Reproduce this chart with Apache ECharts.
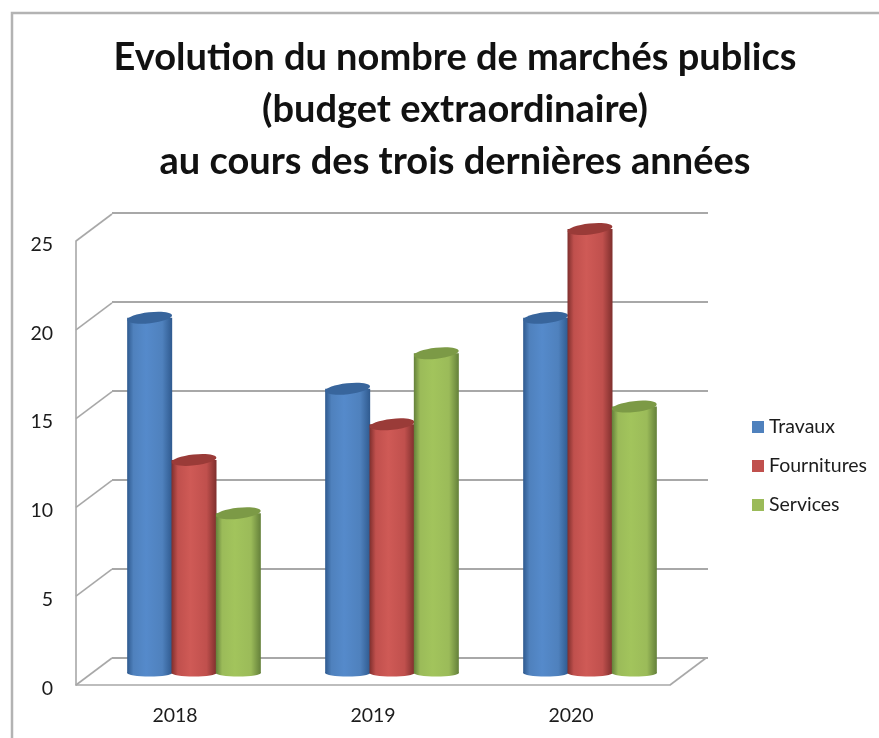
<!DOCTYPE html>
<html>
<head>
<meta charset="utf-8">
<style>html,body{margin:0;padding:0;background:#fff}#c{width:879px;height:738px}</style>
<script src="https://cdn.jsdelivr.net/npm/echarts@6/dist/echarts.min.js"></script>
</head>
<body>
<div id="c"></div>
<script>
const titleLines = ["Evolution du nombre de marchés publics", "(budget extraordinaire)", "au cours des trois dernières années"];
const categories = ["2018", "2019", "2020"];
const travaux = [20, 16, 20];
const fournitures = [12, 14, 25];
const services = [9, 18, 15];
const yTicks = [0, 5, 10, 15, 20, 25];

const FONT = "Lato, sans-serif";
const GRID_COLOR = "#a8a8a8";
const DEPTH_X = 36, DEPTH_Y = 27;      // wall depth
const BAR_DX = 19, BAR_DY = 12;        // bars stand mid-floor
const BAR_BAND = 0.2273;               // bar width as a share of a category band
const palettes = [
  {main: "#4f81bd", light: "#558acb", dark: "#2f5a8f", top: "#38659c"},
  {main: "#c0504d", light: "#cf5a56", dark: "#7f2f2d", top: "#9a3b38"},
  {main: "#9bbb59", light: "#a2c45c", dark: "#64803a", top: "#7c9a46"}
];

function cylinder(params, api) {
  const pal = palettes[params.seriesIndex - 1];
  const band = api.size([1, 0])[0];
  const w = band * BAR_BAND;
  const i = api.value(0);
  const top = api.coord([i, api.value(1)]);
  const base = api.coord([i, 0]);
  const cx = top[0] + BAR_DX + (params.seriesIndex - 2) * w * 0.985;
  const yt = top[1] - BAR_DY, yb = base[1] - BAR_DY;
  const tilt = 0.11;
  const grad = new echarts.graphic.LinearGradient(0, 0, 1, 0, [
    {offset: 0, color: pal.dark},
    {offset: 0.14, color: pal.main},
    {offset: 0.42, color: pal.light},
    {offset: 0.78, color: pal.main},
    {offset: 1, color: pal.dark}
  ]);
  return {
    type: "group",
    children: [
      {type: "ellipse", shape: {cx: cx, cy: yb, rx: w / 2, ry: 3.5}, style: {fill: grad}},
      {type: "rect", shape: {x: cx - w / 2, y: yt, width: w, height: yb - yt}, style: {fill: grad}},
      {type: "ellipse", originX: cx, originY: yt, rotation: tilt,
       shape: {cx: cx, cy: yt, rx: w / 2, ry: 5.5}, style: {fill: pal.top}}
    ]
  };
}

function walls(params, api) {
  const band = api.size([1, 0])[0];
  const val = api.value(0);
  const p0 = api.coord([0, val]);
  const x0 = p0[0] - band / 2, y0 = p0[1];
  const lineStyle = {stroke: GRID_COLOR, lineWidth: 1.6, fill: null};
  const children = [
    {type: "line", shape: {x1: x0, y1: y0, x2: x0 + DEPTH_X, y2: y0 - DEPTH_Y}, style: lineStyle}
  ];
  if (val === 0) {
    const xe = x0 + band * categories.length;
    children.push({type: "line", shape: {x1: xe, y1: y0, x2: xe + DEPTH_X, y2: y0 - DEPTH_Y}, style: lineStyle});
  }
  return {type: "group", children: children};
}

function barSeries(name, values, idx) {
  return {
    name: name,
    type: "custom",
    xAxisIndex: 0,
    yAxisIndex: 0,
    z: 5,
    clip: false,
    itemStyle: {color: palettes[idx].main},
    encode: {x: 0, y: 1},
    renderItem: cylinder,
    data: values.map((v, i) => [i, v])
  };
}

const chart = echarts.init(document.getElementById("c"), null, {renderer: "canvas"});
chart.setOption({
  backgroundColor: "#ffffff",
  animation: false,
  title: {
    text: titleLines.join("\n"),
    left: 450, top: 27, textAlign: "center",
    textStyle: {fontFamily: FONT, fontWeight: "bold", fontSize: 38, lineHeight: 52, color: "#111"}
  },
  legend: {
    orient: "vertical",
    left: 747, top: 411,
    itemWidth: 12, itemHeight: 12, itemGap: 17, icon: "rect",
    data: ["Travaux", "Fournitures", "Services"],
    textStyle: {fontFamily: FONT, fontSize: 19.5, color: "#1c1c1c", lineHeight: 22}
  },
  grid: [
    {left: 76, top: 241, width: 594, height: 444},
    {left: 112, top: 213, width: 596, height: 445}
  ],
  xAxis: [
    {type: "category", gridIndex: 0, data: categories,
     axisLine: {lineStyle: {color: GRID_COLOR, width: 1.6}},
     axisTick: {show: false},
     axisLabel: {fontFamily: FONT, fontSize: 19.5, color: "#1c1c1c", margin: 21}},
    {type: "category", gridIndex: 1, data: categories,
     axisLine: {show: false}, axisTick: {show: false}, axisLabel: {show: false}}
  ],
  yAxis: [
    {type: "value", gridIndex: 0, min: 0, max: 25, interval: 5,
     axisLine: {show: true, lineStyle: {color: GRID_COLOR, width: 1.6}},
     axisTick: {show: false}, splitLine: {show: false},
     axisLabel: {
       margin: 23,
       formatter: "{v|{value}}",
       rich: {v: {fontFamily: FONT, fontSize: 19.5, color: "#1c1c1c", padding: [7, 0, 0, 0]}}
     }},
    {type: "value", gridIndex: 1, min: 0, max: 25, interval: 5,
     axisLine: {show: false}, axisTick: {show: false}, axisLabel: {show: false},
     splitLine: {show: true, lineStyle: {color: GRID_COLOR, width: 1.8}}}
  ],
  series: [
    {type: "custom", name: "walls", xAxisIndex: 0, yAxisIndex: 0, z: 1, clip: false,
     encode: {y: 0}, renderItem: walls, silent: true,
     data: yTicks.map(v => [v])},
    barSeries("Travaux", travaux, 0),
    barSeries("Fournitures", fournitures, 1),
    barSeries("Services", services, 2)
  ],
  graphic: [
    {type: "polyline", silent: true, z: 0,
     shape: {points: [[12, 738], [12, 13], [879, 13]]},
     style: {stroke: "#b3b3b3", lineWidth: 2.5, fill: null}}
  ]
});
</script>
</body>
</html>
